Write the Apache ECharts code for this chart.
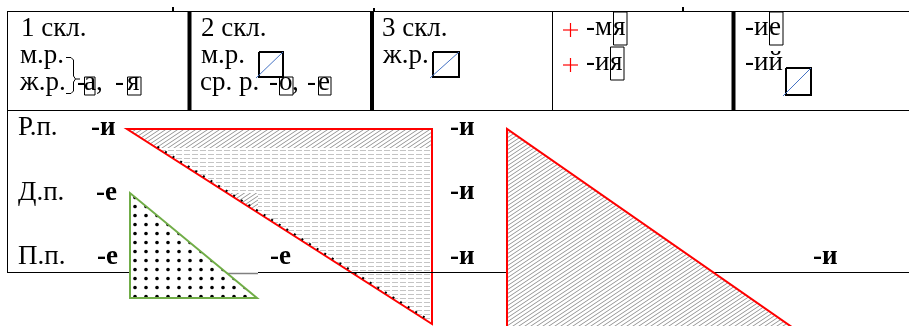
<!DOCTYPE html>
<html>
<head>
<meta charset="utf-8">
<script src="https://cdn.jsdelivr.net/npm/echarts@6/dist/echarts.min.js"></script>
<style>
  html, body { margin: 0; padding: 0; background: #fff; }
  #main { width: 909px; height: 326px; }
</style>
</head>
<body>
<div id="main"></div>
<script>
// diagram space: x to the right, y downwards (axis units = page px)
// text pieces: [x, baseline, text, box type, box width]  ('b' short box, 'B' tall box)
const headerTexts = [
  [21, 38, '1 скл.'], [20, 65, 'м.р.'], [20, 92, 'ж.р.'],
  [77, 92, '-'], [84, 92, 'а', 'b', 11], [96, 92, ','], [115, 92, '-'], [127, 92, 'я', 'b', 14],
  [201, 38, '2 скл.'], [201, 65, 'м.р.'], [200, 92, 'ср. р.'],
  [269, 92, '-'], [279, 92, 'о', 'b', 14], [292, 92, ','], [307, 92, '-'], [318, 92, 'е', 'b', 13],
  [382, 38, '3 скл.'], [383, 65, 'ж.р.'],
  [586, 37, '-м'], [613, 37, 'я', 'B', 14], [586, 72, '-и'], [610, 72, 'я', 'B', 14],
  [745, 37, '-и'], [769, 37, 'е', 'B', 14], [745, 72, '-ий'],
]
const plusSigns = [[570.5, 30], [570.5, 65]]
const caseTexts = [[18, 137, 'Р.п.'], [18, 202, 'Д.п.'], [18, 266, 'П.п.']]
const endingTexts = [
  [91, 137, '-и'], [96, 202, '-е'], [97, 266, '-е'], [270, 266, '-е'],
  [450, 137, '-и'], [450, 201, '-и'], [450, 266, '-и'], [813, 266, '-и'],
]

const triBig = [[127, 129], [432, 129], [432, 324]]
const triBigStrip = [[127, 129], [432, 129], [432, 148], [157, 148]]
const triBigPatch = [[227, 193], [258, 193], [258, 208], [250, 208]]
const triRight = [[507, 129], [507, 332], [799, 332]]
const triGreen = [[130, 193], [130, 298], [257, 298]]

const tableLines = [
  [[7, 11.5], [909, 11.5]], [[7, 110.5], [909, 110.5]], [[7.5, 11], [7.5, 272]],
  [[7, 272.5], [130, 272.5]], [[258, 272.5], [909, 272.5]],
]
const thickDividers = [189.5, 372, 733.5]
const thinDividers = [552.5]
const crossBoxes = [[259, 52, 283, 77], [433, 52, 459, 77], [786, 68, 811, 95]]
const brace = [[[66, 57.5], [71, 57.5], [73.5, 60], [73.5, 76], [75.5, 79], [80, 79]],
  [[75.5, 79], [73.5, 82], [73.5, 91], [71, 93.5], [66, 93.5]]]
const topMarks = [[173, 7], [374, 8], [683, 7]]

const FONT = 'Liberation Serif'
const FS = 27
const boxExtent = { b: [-15, 3], B: [-25, 8] }

function makePattern(w, h, draw) {
  const c = document.createElement('canvas')
  c.width = w; c.height = h
  const g = c.getContext('2d')
  g.fillStyle = '#fff'
  g.fillRect(0, 0, w, h)
  draw(g)
  return { image: c, repeat: 'repeat' }
}
const diagFill = makePattern(6, 4, g => {
  g.strokeStyle = '#969696'; g.lineWidth = 1
  g.beginPath()
  g.moveTo(-6, 4); g.lineTo(12, -8)
  g.moveTo(0, 4); g.lineTo(6, 0)
  g.moveTo(0, 8); g.lineTo(12, 0)
  g.stroke()
})
const waveFill = makePattern(8, 4, g => {
  g.strokeStyle = '#c4c4c4'; g.lineWidth = 1
  g.beginPath(); g.moveTo(0, 2.5); g.lineTo(6, 2.5); g.stroke()
})
const dotFill = makePattern(11, 9, g => {
  g.fillStyle = '#000'
  g.beginPath(); g.arc(3, 8.5, 1.8, 0, Math.PI * 2); g.fill()
  g.beginPath(); g.arc(3, -0.5, 1.8, 0, Math.PI * 2); g.fill()
})

const shapes = [
  { pts: triBig, fill: waveFill },
  { pts: triBigStrip, fill: diagFill },
  { pts: triBigPatch, fill: diagFill },
  { pts: triBig, fill: 'none', stroke: '#ff0000', lw: 2 },
]
const topShapes = [
  { pts: triRight, fill: diagFill, stroke: '#ff0000', lw: 2 },
  { pts: triGreen, fill: dotFill, stroke: '#70ad47', lw: 2 },
]

function polySeries(list, z) {
  return {
    type: 'custom', z: z, silent: true,
    data: list.map((_, i) => i),
    renderItem: (params, api) => {
      const s = list[params.dataIndex]
      return {
        type: 'polygon',
        shape: { points: s.pts.map(p => api.coord(p)) },
        style: { fill: s.fill, stroke: s.stroke || null, lineWidth: s.lw || 0 },
      }
    },
  }
}

function lineSeries(list, color, width, z, dash) {
  return {
    type: 'custom', z: z, silent: true,
    data: list.map((_, i) => i),
    renderItem: (params, api) => ({
      type: 'polyline',
      shape: { points: list[params.dataIndex].map(p => api.coord(p)) },
      style: { stroke: color, lineWidth: width, fill: null, lineDash: dash || null },
    }),
  }
}

function textSeries(list, opts, z) {
  return {
    type: 'custom', z: z, silent: true,
    data: list.map((_, i) => i),
    renderItem: (params, api) => {
      const t = list[params.dataIndex]
      const p = api.coord([t[0], t[1] - 0.33 * FS])
      return {
        type: 'text', x: p[0], y: p[1],
        style: Object.assign({
          text: t[2], fontFamily: FONT, fontSize: FS, fill: '#000',
          align: 'left', verticalAlign: 'middle',
        }, opts),
      }
    },
  }
}

// outline boxes round the marked letters
const letterBoxes = headerTexts.filter(t => t[3]).map(t => {
  const e = boxExtent[t[3]]
  const x0 = t[0] + 0.5, x1 = t[0] + t[4], y0 = t[1] + e[0], y1 = t[1] + e[1]
  return [[x0, y0], [x1, y0], [x1, y1], [x0, y1], [x0, y0]]
})

const dividerLines = thickDividers.map(x => [[x, 11], [x, 110]])
const thinLines = thinDividers.map(x => [[x, 11], [x, 110]])
const markLines = topMarks.map(m => [[m[0], m[1]], [m[0], 11]])
const plusLines = plusSigns.flatMap(p => [[[p[0] - 7.5, p[1]], [p[0] + 7.5, p[1]]], [[p[0], p[1] - 7], [p[0], p[1] + 7]]])
const boxRects = crossBoxes.map(b => [[b[0], b[1]], [b[2], b[1]], [b[2], b[3]], [b[0], b[3]], [b[0], b[1]]])
const boxDiags = crossBoxes.map(b => [[b[0] - 3, b[3] + 1], [b[2], b[1]]])
const stubLine = [[[157.5, 146.7], [429.7, 320.7]]]
const greyLine = [[[130, 273.5], [258, 273.5]]]

const chart = echarts.init(document.getElementById('main'))
chart.setOption({
  animation: false,
  backgroundColor: '#fff',
  grid: { left: 0, right: 0, top: 0, bottom: 0 },
  xAxis: { type: 'value', min: 0, max: 909, show: false },
  yAxis: { type: 'value', min: 0, max: 326, inverse: true, show: false },
  series: [
    polySeries(shapes, 1),
    lineSeries(stubLine, '#000', 2, 2, [2, 7]),
    lineSeries(tableLines, '#000', 1, 3),
    lineSeries(greyLine, '#808080', 1.5, 3),
    lineSeries(dividerLines, '#000', 4, 3),
    lineSeries(thinLines, '#000', 1, 3),
    lineSeries(markLines, '#000', 2, 3),
    polySeries(topShapes, 4),
    lineSeries(boxRects, '#000', 2, 5),
    lineSeries(boxDiags, '#4472c4', 1, 6),
    lineSeries(brace, '#000', 1, 5),
    lineSeries(letterBoxes, '#000', 1, 5),
    lineSeries(plusLines, '#ff0000', 1.2, 5),
    textSeries(headerTexts, {}, 7),
    textSeries(caseTexts, {}, 7),
    textSeries(endingTexts, { fontWeight: 'bold' }, 7),
  ],
})
</script>
</body>
</html>
